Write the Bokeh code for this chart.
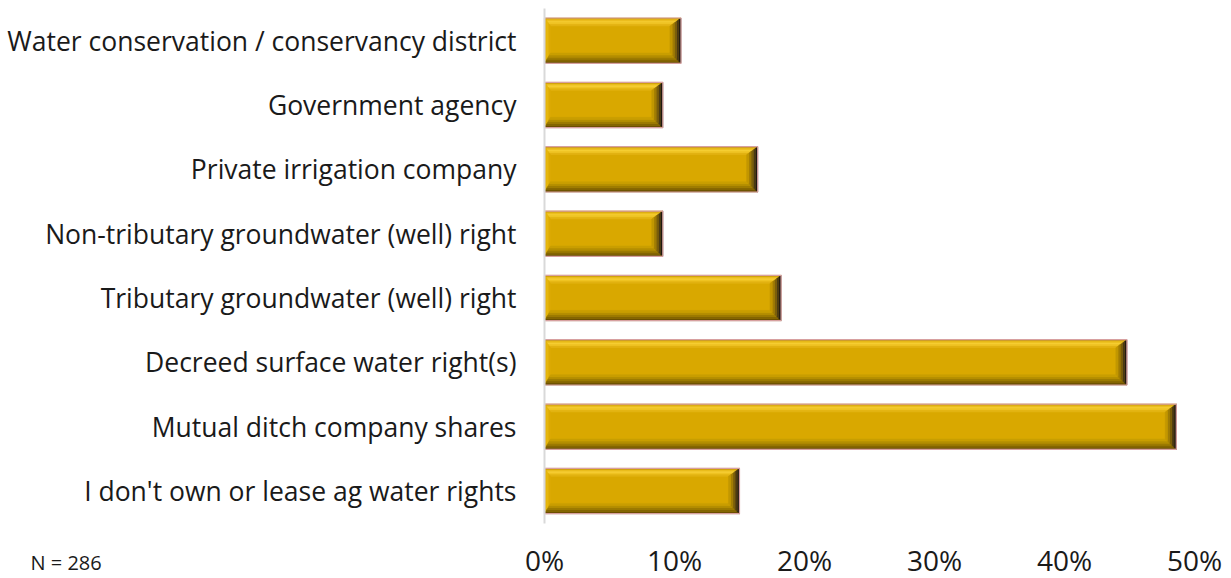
from bokeh.plotting import figure
from bokeh.models import Range1d, FixedTicker, Label
from bokeh.embed import file_html
from bokeh.resources import INLINE

# ---------------- data ----------------
categories = [
    "Water conservation / conservancy district",
    "Government agency",
    "Private irrigation company",
    "Non-tributary groundwater (well) right",
    "Tributary groundwater (well) right",
    "Decreed surface water right(s)",
    "Mutual ditch company shares",
    "I don't own or lease ag water rights",
]
shares = [10.5, 9.1, 16.4, 9.1, 18.2, 44.8, 48.6, 15.0]
x_ticks = [0, 10, 20, 30, 40, 50]
x_tick_labels = ["0%", "10%", "20%", "30%", "40%", "50%"]
note_text = "N = 286"

FONT = "Open Sans"
n = len(categories)
ypos = [n - 1 - i for i in range(n)]

W, H = 1231, 578
# plot region inside the canvas (pixels): left, right, top, bottom
PL, PR, PT, PB = 544, 1194, 8, 522.7
xmax = x_ticks[-1]
ppx = (PR - PL) / xmax            # pixels per percent
ppy = (PB - PT) / n               # pixels per category
x_range = Range1d(-PL / ppx, xmax + (W - PR) / ppx)
y_range = Range1d(-0.5 - (H - PB) / ppy, n - 0.5 + PT / ppy)

p = figure(width=W, height=H, output_backend="svg", toolbar_location=None,
           x_range=x_range, y_range=y_range,
           min_border_left=0, min_border_right=0, min_border_top=0, min_border_bottom=0)
p.outline_line_color = None
p.grid.grid_line_color = None
p.background_fill_color = "white"
p.border_fill_color = "white"

half = 0.352
bxl, bxr = 0.46, 0.85      # bevel depth in x (% units)
byt, byb = 0.124, 0.16     # bevel depth in y (category units)

# base face
p.hbar(y=ypos, right=shares, left=0, height=2 * half, fill_color="#D9A800", line_color=None)

def band(v, yc, side, t0, t1):
    top = yc + half
    bot = yc - half
    L = lambda t: t * bxl
    R = lambda t: v - t * bxr
    T = lambda t: top - t * byt
    B = lambda t: bot + t * byb
    if side == "bottom":
        return [L(t0), R(t0), R(t1), L(t1)], [B(t0), B(t0), B(t1), B(t1)]
    if side == "top":
        return [L(t0), R(t0), R(t1), L(t1)], [T(t0), T(t0), T(t1), T(t1)]
    if side == "right":
        return [R(t0), R(t0), R(t1), R(t1)], [T(t0), B(t0), B(t1), T(t1)]
    return [L(t0), L(t0), L(t1), L(t1)], [T(t0), B(t0), B(t1), T(t1)]

bevel_styles = {
    "top": ["#C89808", "#EABD1C", "#F6CE35", "#F0C526", "#E2B312"],
    "left": ["#D0A000", "#E4B50C", "#E8B910", "#E2B20A", "#DCAB05"],
    "bottom": ["#6A5000", "#856600", "#9C7A00", "#B48E00", "#C99E00"],
    "right": ["#1E1812", "#4A3A14", "#7A5E0C", "#A07C05", "#C29700"],
}
for side, cols in bevel_styles.items():
    k = len(cols)
    for j in range(k):
        xs_list, ys_list = [], []
        for v, yc in zip(shares, ypos):
            xs_, ys_ = band(v, yc, side, j / k, (j + 1) / k)
            xs_list.append(xs_)
            ys_list.append(ys_)
        p.patches(xs_list, ys_list, fill_color=cols[j], line_color=cols[j], line_width=0.5)

# thin pinkish outline
p.hbar(y=ypos, right=shares, left=0, height=2 * half, fill_color=None,
       line_color="#D7A0A0", line_width=1.2)

# axes (pinned inside the plot region)
p.yaxis.fixed_location = 0
p.yaxis.bounds = (-0.5, n - 0.5)
p.yaxis.ticker = FixedTicker(ticks=ypos)
p.yaxis.major_label_overrides = {y: c for y, c in zip(ypos, categories)}
p.yaxis.axis_line_color = "#D9D9D9"
p.yaxis.axis_line_width = 2
p.yaxis.major_tick_line_color = None
p.yaxis.minor_tick_line_color = None
p.yaxis.major_label_standoff = 22
p.yaxis.major_label_text_font = FONT
p.yaxis.major_label_text_font_size = "26.5px"
p.yaxis.major_label_text_color = "#1a1a1a"

p.xaxis.fixed_location = -0.5
p.xaxis.ticker = FixedTicker(ticks=x_ticks)
p.xaxis.major_label_overrides = {t: l for t, l in zip(x_ticks, x_tick_labels)}
p.xaxis.axis_line_color = None
p.xaxis.major_tick_line_color = None
p.xaxis.minor_tick_line_color = None
p.xaxis.major_label_standoff = 12
p.xaxis.major_label_text_font = FONT
p.xaxis.major_label_text_font_size = "28px"
p.xaxis.major_label_text_color = "#1a1a1a"

note = Label(x=30, y=562, x_units="canvas", y_units="canvas", text=note_text,
             text_font=FONT, text_font_size="20px", text_color="#1a1a1a",
             text_baseline="middle", text_align="left")
p.add_layout(note)

open("out.html", "w").write(file_html(p, INLINE))
